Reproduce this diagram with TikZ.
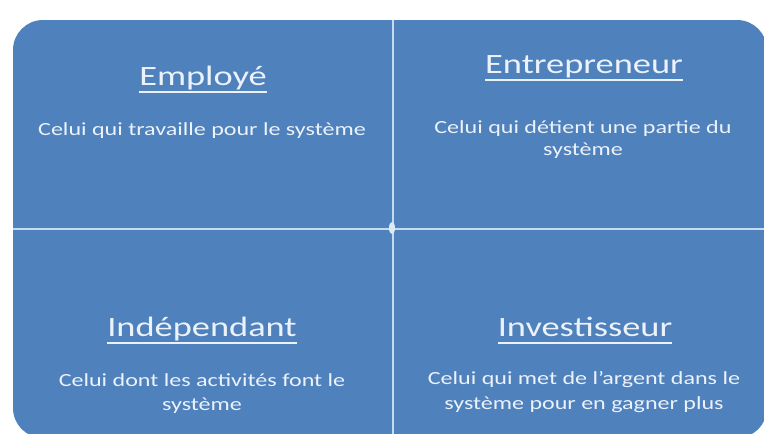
\documentclass[tikz,border=0pt]{standalone}
\usepackage{fontspec}
\setmainfont{Carlito}
\definecolor{boxblue}{RGB}{79,129,189}
\definecolor{divcol}{RGB}{196,218,240}
\definecolor{txtcol}{RGB}{236,242,250}
\newcommand\sxq[1]{\scalebox{1.3}[1]{#1}}
\newcommand\mytitle[1]{\setbox0\hbox{#1}\rlap{\rule[-7.5pt]{\wd0}{1.8pt}}\box0}
\tikzset{
  ttl/.style={text=txtcol, inner sep=0pt, anchor=base, font=\fontsize{28}{30}\selectfont},
  dsc/.style={text=txtcol, inner sep=0pt, anchor=base, font=\fontsize{18.5}{23}\selectfont},
  divider/.style={draw=divcol, line width=2.5pt}
}
\begin{document}
\begin{tikzpicture}[x=1pt,y=-1pt]
\useasboundingbox (0,0) rectangle (764,434);
\clip (0,0) rectangle (764,434);
\fill[boxblue, rounded corners=30pt] (13,20) rectangle (767,438);
\coordinate (vt) at (393,20);
\coordinate (vb) at (393,438);
\coordinate (hl) at (13,229);
\coordinate (hr) at (767,229);
\draw[divider] (vt) -- (vb);
\draw[divider] (hl) -- (hr);
\fill[divcol!60!white] (392,228) ellipse (3pt and 6pt);
% top left
\node[ttl] (emp) at (203,85) {\sxq{\mytitle{Employé}}};
\node[dsc] (empd) at (202,135) {\sxq{Celui qui travaille pour le système}};
% top right
\node[ttl] (ent) at (584,73) {\sxq{\mytitle{Entrepreneur}}};
\node[dsc] (entd1) at (583,133) {\sxq{Celui qui détient une partie du}};
\node[dsc] (entd2) at (583,155) {\sxq{système}};
% bottom left
\node[ttl] (ind) at (202,336) {\sxq{\mytitle{Indépendant}}};
\node[dsc] (indd1) at (202,386) {\sxq{Celui dont les activités font le}};
\node[dsc] (indd2) at (202,410) {\sxq{système}};
% bottom right
\node[ttl] (inv) at (585,336) {\sxq{\mytitle{Investisseur}}};
\node[dsc] (invd1) at (584,384) {\sxq{Celui qui met de l’argent dans le}};
\node[dsc] (invd2) at (584,409) {\sxq{système pour en gagner plus}};
\end{tikzpicture}
\end{document}
